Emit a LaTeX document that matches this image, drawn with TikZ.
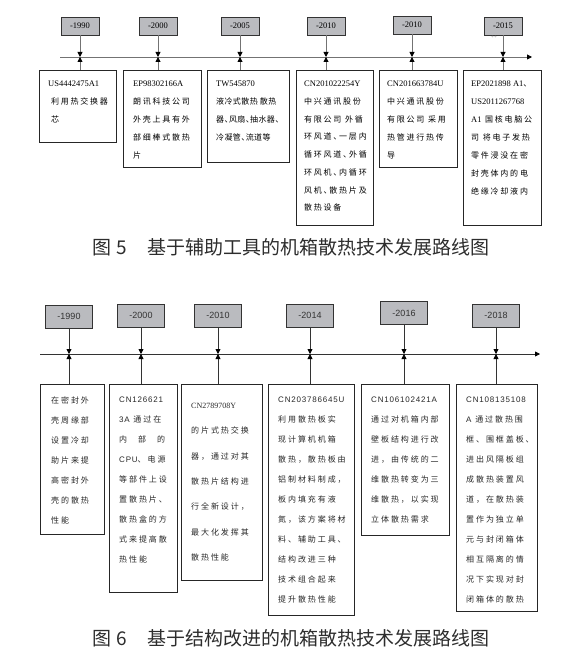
\documentclass[tikz,border=0pt]{standalone}
\usepackage{fontspec}
\setmainfont{Noto Sans CJK SC}
\newfontfamily\zhtop[LetterSpace=22,RawFeature={+halt}]{Noto Sans CJK SC}
\newfontfamily\zhtight[LetterSpace=5,RawFeature={+halt}]{Noto Sans CJK SC}
\newfontfamily\zhbot[LetterSpace=24]{Noto Sans CJK SC}
\newfontfamily\tnr{Liberation Serif}
\newfontfamily\lsb[LetterSpace=10]{Liberation Sans}
\newfontfamily\ars{Liberation Sans}
\newcommand\lt[1]{{\tnr\fontsize{8.5}{18}\selectfont #1}}
\usetikzlibrary{positioning,calc,arrows.meta}
\definecolor{yearfill}{RGB}{186,187,191}
\definecolor{linegray}{RGB}{115,115,115}
\definecolor{capgray}{RGB}{45,45,45}
\tikzset{>={Triangle[length=5pt,width=5pt,color=black]},
ln/.style={draw=linegray,line width=0.9pt},
lnb/.style={draw=black!80,line width=0.8pt},
yb/.style={draw=black!80,fill=yearfill,line width=0.7pt,minimum width=38,minimum height=18,inner sep=0pt,font=\tnr\fontsize{8.5}{9}\selectfont},
yc/.style={draw=black!80,fill=yearfill,line width=0.7pt,minimum width=47,minimum height=23,inner sep=0pt,font=\ars\fontsize{9}{10}\selectfont,text=black!80},
pb/.style={draw=black!85,line width=0.8pt,anchor=north west,inner sep=0pt},
tt/.style={anchor=north west,inner sep=0pt,align=left,font=\zhtop\fontsize{8}{18}\selectfont},
tb/.style={anchor=north west,inner sep=0pt,align=left,text=black!85,font=\zhbot\fontsize{8}{20}\selectfont},
captxt/.style={anchor=west,text=capgray,font=\fontsize{19}{20}\selectfont},
}

\begin{document}
\begin{tikzpicture}[x=1pt,y=-1pt]
\useasboundingbox (0,0) rectangle (585,655);

% upper roadmap
\coordinate (a0) at (60,57);
\coordinate (a7) at (532,57);
\foreach \n/\x in {1/80,2/158,3/240,4/326,5/412,6/503}
	\coordinate (a\n) at (\x,57);
\draw[ln,->] (a0) -- (a7);

\node[yb] (ya1) at (80,26) {-1990};
\node[yb] (ya2) at (158,26) {-2000};
\node[yb] (ya3) at (240,26) {-2005};
\node[yb] (ya4) at (326,26) {-2010};
\node[yb] (ya5) at (412,25) {-2010};
\node[yb] (ya6) at (503,26) {-2015};
\node[font=\tnr\fontsize{5}{5}\selectfont,text=gray] (pp) at (494,37) {++};

\node[pb,minimum width=77,minimum height=72] (pa1) at (39,70) {};
\node[pb,minimum width=78,minimum height=97] (pa2) at (123,70) {};
\node[pb,minimum width=82,minimum height=92] (pa3) at (207,70) {};
\node[pb,minimum width=77,minimum height=155] (pa4) at (296,70) {};
\node[pb,minimum width=78,minimum height=97] (pa5) at (379,70) {};
\node[pb,minimum width=78,minimum height=155] (pa6) at (463,70) {};

\foreach \n in {1,...,6} {
	\draw[ln,->] (ya\n) -- (a\n);
	\draw[ln,->] (a\n |- pa\n.north) -- (a\n);
}

\node[tt] (ta1) at ([shift={(9pt,-11pt)}]pa1.north west)
	{\lt{US4442475A1}\\\hspace{3pt}利用热交换器\\\hspace{3pt}芯};
\node[tt] (ta2) at ([shift={(10pt,-11pt)}]pa2.north west)
	{\lt{EP98302166A}\\朗讯科技公司\\外壳上具有外\\部细棒式散热\\片};
\node[tt,font=\zhtight\fontsize{8}{18}\selectfont] (ta3) at ([shift={(9pt,-11pt)}]pa3.north west)
	{\lt{TW545870}\\液冷式散热 散热\\器、风扇、抽水器、\\冷凝管、流道等};
\node[tt,font=\zhtop\fontsize{8}{17.7}\selectfont] (ta4) at ([shift={(8pt,-11pt)}]pa4.north west)
	{\lt{CN201022254Y}\\中兴通讯股份\\有限公司 外循\\环风道、一层内\\循环风道、外循\\环风机、内循环\\风机、散热片及\\散热设备};
\node[tt] (ta5) at ([shift={(8pt,-11pt)}]pa5.north west)
	{\lt{CN201663784U}\\中兴通讯股份\\有限公司 采用\\热管进行热传\\导};
\node[tt] (ta6) at ([shift={(8pt,-11pt)}]pa6.north west)
	{\lt{EP2021898 A1}、\\\lt{US2011267768}\\\lt{A1} 国核电脑公\\司 将电子发热\\零件浸没在密\\封壳体内的电\\绝缘冷却液内};

\node[captxt] (c5) at (89,247) {图\hspace{5pt}5\hspace{20pt}基于辅助工具的机箱散热技术发展路线图};

% lower roadmap
\coordinate (b0) at (40,354);
\coordinate (b7) at (540,354);
\foreach \n/\x in {1/69,2/141,3/218,4/310,5/404,6/496}
	\coordinate (b\n) at (\x,354);
\draw[lnb,->] (b0) -- (b7);

\node[yc] (yb1) at (69,316.5) {-1990};
\node[yc] (yb2) at (141,315.5) {-2000};
\node[yc] (yb3) at (218,315.5) {-2010};
\node[yc] (yb4) at (310,315.5) {-2014};
\node[yc] (yb5) at (404,313) {-2016};
\node[yc] (yb6) at (496,315.5) {-2018};

\node[pb,minimum width=64,minimum height=150] (pc1) at (40,384) {};
\node[pb,minimum width=68,minimum height=208] (pc2) at (109,384) {};
\node[pb,minimum width=81,minimum height=196] (pc3) at (181,384) {};
\node[pb,minimum width=86,minimum height=231] (pc4) at (268,384) {};
\node[pb,minimum width=88,minimum height=151] (pc5) at (361,384) {};
\node[pb,minimum width=81,minimum height=227] (pc6) at (456,384) {};

\foreach \n in {1,...,6} {
	\draw[lnb,->] (yb\n) -- (b\n);
	\draw[lnb,->] (b\n |- pc\n.north) -- (b\n);
}

\node[tb] (tc1) at ([shift={(11pt,-12.5pt)}]pc1.north west)
	{在密封外\\壳周缘部\\设置冷却\\助片来提\\高密封外\\壳的散热\\性能};
\node[tb] (tc2) at ([shift={(10pt,-12.5pt)}]pc2.north west)
	{{\lsb CN126621}\\{\lsb 3A} 通过在\\内\hspace{11pt}部\hspace{11pt}的\\{\lsb CPU}、电源\\等部件上设\\置散热片、\\散热盒的方\\式来提高散\\热性能};
\node[tb,font=\zhbot\fontsize{8}{25.3}\selectfont] (tc3) at ([shift={(10pt,-19pt)}]pc3.north west)
	{{\tnr CN2789708Y}\\的片式热交换\\器，通过对其\\散热片结构进\\行全新设计，\\最大化发挥其\\散热性能};
\node[tb] (tc4) at ([shift={(10pt,-12.5pt)}]pc4.north west)
	{{\lsb CN203786645U}\\利用散热板实\\现计算机机箱\\散热，散热板由\\铝制材料制成，\\板内填充有液\\氮，该方案将材\\料、辅助工具、\\结构改进三种\\技术组合起来\\提升散热性能};
\node[tb] (tc5) at ([shift={(10pt,-12.5pt)}]pc5.north west)
	{{\lsb CN106102421A}\\通过对机箱内部\\壁板结构进行改\\进，由传统的二\\维散热转变为三\\维散热，以实现\\立体散热需求};
\node[tb] (tc6) at ([shift={(10pt,-12.5pt)}]pc6.north west)
	{{\lsb CN108135108}\\{\lsb A} 通过散热围\\框、围框盖板、\\进出风隔板组\\成散热装置风\\道，在散热装\\置作为独立单\\元与封闭箱体\\相互隔离的情\\况下实现对封\\闭箱体的散热};

\node[captxt] (c6) at (89,638) {图\hspace{5pt}6\hspace{20pt}基于结构改进的机箱散热技术发展路线图};
\end{tikzpicture}
\end{document}
